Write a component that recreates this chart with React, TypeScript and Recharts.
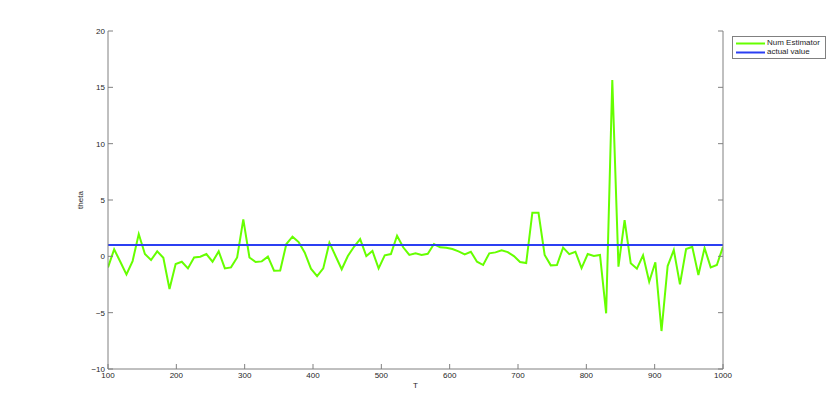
import { LineChart, Line, XAxis, YAxis, Legend } from "recharts";

// sample points of the estimator run
const T = [
    100, 109, 118, 127, 136, 145, 154, 163, 172, 181, 190, 199, 208, 217, 226, 235, 244, 253, 262, 271,
    280, 289, 298, 307, 316, 325, 334, 343, 352, 361, 370, 379, 388, 397, 406, 415, 424, 433, 442, 451,
    460, 469, 478, 487, 496, 505, 514, 523, 532, 541, 550, 559, 568, 577, 586, 595, 604, 613, 622, 631,
    640, 649, 658, 667, 676, 685, 694, 703, 712, 721, 730, 739, 748, 757, 766, 775, 784, 793, 802, 811,
    820, 829, 838, 847, 856, 865, 874, 883, 892, 901, 910, 919, 928, 937, 946, 955, 964, 973, 982, 991,
    1000,
];

const THETA = [
    -0.98, 0.62, -0.48, -1.6, -0.42, 1.98, 0.2, -0.33, 0.44, -0.12,
    -2.9, -0.68, -0.48, -1.07, -0.1, -0.03, 0.2, -0.48, 0.44, -1.07,
    -0.98, -0.1, 3.28, -0.1, -0.5, -0.45, -0.03, -1.27, -1.25, 1.09,
    1.74, 1.27, 0.32, -1.1, -1.75, -1.07, 1.21, 0.03, -1.15, 0.03,
    0.85, 1.53, 0.03, 0.47, -1.07, 0.09, 0.2, 1.83, 0.8, 0.12,
    0.27, 0.12, 0.23, 1.09, 0.8, 0.77, 0.65, 0.44, 0.18, 0.41,
    -0.48, -0.77, 0.27, 0.35, 0.53, 0.38, 0.02, -0.5, -0.6, 3.87,
    3.87, 0.12, -0.8, -0.77, 0.77, 0.2, 0.41, -1.04, 0.2, 0.03,
    0.12, -5.06, 15.64, -0.92, 3.22, -0.62, -1.1, 0.09, -2.25, -0.53,
    -6.63, -0.86, 0.56, -2.49, 0.65, 0.85, -1.66, 0.74, -0.98, -0.77,
    0.85,
];

const ACTUAL_VALUE = 1;

const X_TICKS = [100, 200, 300, 400, 500, 600, 700, 800, 900, 1000];
const Y_TICKS = [-10, -5, 0, 5, 10, 15, 20];

const GREEN = "#66ff00";
const BLUE = "#2b3ff2";
const AXIS = "#808080";
const TEXT = "#262626";
const FONT = "'Liberation Sans', Arial, sans-serif";

const data = T.map((t, i) => ({ T: t, theta: THETA[i] }));
const actualData = [
    { T: T[0], actual: ACTUAL_VALUE },
    { T: T[T.length - 1], actual: ACTUAL_VALUE },
];

const fmt = (v: number) => (v < 0 ? `\u2212${-v}` : `${v}`);

// MATLAB style: ticks point into the plot box
const BottomTick = (props: any) => {
    const { x, y, payload } = props;
    return (
        <g>
            <line x1={x} y1={y} x2={x} y2={y - 5} stroke={AXIS} />
            <text x={x} y={y + 8.5} textAnchor="middle" fontSize={8} fill={TEXT} fontFamily={FONT}>
                {payload.value}
            </text>
        </g>
    );
};

const TopTick = (props: any) => {
    const { x, y } = props;
    return <line x1={x} y1={y} x2={x} y2={y + 5} stroke={AXIS} />;
};

const LeftTick = (props: any) => {
    const { x, y, payload } = props;
    return (
        <g>
            <line x1={x} y1={y} x2={x + 5} y2={y} stroke={AXIS} />
            <text x={x - 3} y={y + 3} textAnchor="end" fontSize={8} fill={TEXT} fontFamily={FONT}>
                {fmt(payload.value)}
            </text>
        </g>
    );
};

const RightTick = (props: any) => {
    const { x, y } = props;
    return <line x1={x} y1={y} x2={x - 5} y2={y} stroke={AXIS} />;
};

const LegendBox = () => (
    <div
        style={{
            border: `1px solid ${AXIS}`,
            background: "#fff",
            padding: "2px 4px 1px 3px",
            fontFamily: FONT,
            fontSize: 8,
            color: TEXT,
            lineHeight: "8.5px",
        }}
    >
        {[
            { name: "Num Estimator", color: GREEN },
            { name: "actual value", color: BLUE },
        ].map((item) => (
            <div key={item.name} style={{ display: "flex", alignItems: "center" }}>
                <svg width={31} height={9}>
                    <line x1={0} y1={4.5} x2={29} y2={4.5} stroke={item.color} strokeWidth={2} />
                </svg>
                <span>{item.name}</span>
            </div>
        ))}
    </div>
);

export default function App() {
    return (
        <div style={{ position: "absolute", left: 0, top: 0, width: 830, height: 415, background: "#fff" }}>
            <LineChart width={830} height={415} margin={{ top: 31, right: 0, bottom: 0, left: 0 }}>
                <XAxis
                    dataKey="T"
                    type="number"
                    domain={[100, 1000]}
                    ticks={X_TICKS}
                    allowDataOverflow
                    height={46}
                    stroke={AXIS}
                    tickLine={false}
                    tickSize={0}
                    tickMargin={0}
                    tick={<BottomTick />}
                    label={(p: any) => (
                        <text
                            x={p.viewBox.x + p.viewBox.width / 2}
                            y={p.viewBox.y + 19}
                            textAnchor="middle"
                            fontSize={8}
                            fill={TEXT}
                            fontFamily={FONT}
                        >
                            T
                        </text>
                    )}
                />
                <XAxis
                    xAxisId="top"
                    orientation="top"
                    dataKey="T"
                    type="number"
                    domain={[100, 1000]}
                    ticks={X_TICKS}
                    allowDataOverflow
                    height={0}
                    stroke={AXIS}
                    tickLine={false}
                    tickSize={0}
                    tickMargin={0}
                    tick={<TopTick />}
                />
                <YAxis
                    type="number"
                    domain={[-10, 20]}
                    ticks={Y_TICKS}
                    allowDataOverflow
                    width={108}
                    stroke={AXIS}
                    tickLine={false}
                    tickSize={0}
                    tickMargin={0}
                    tick={<LeftTick />}
                    label={(p: any) => {
                        const cx = p.viewBox.x + p.viewBox.width - 25;
                        const cy = p.viewBox.y + p.viewBox.height / 2;
                        return (
                            <text
                                x={cx}
                                y={cy}
                                transform={`rotate(-90 ${cx} ${cy})`}
                                textAnchor="middle"
                                fontSize={8}
                                fill={TEXT}
                                fontFamily={FONT}
                            >
                                theta
                            </text>
                        );
                    }}
                />
                <YAxis
                    yAxisId="right"
                    orientation="right"
                    type="number"
                    domain={[-10, 20]}
                    ticks={Y_TICKS}
                    allowDataOverflow
                    width={107}
                    stroke={AXIS}
                    tickLine={false}
                    tickSize={0}
                    tickMargin={0}
                    tick={<RightTick />}
                />
                <Legend
                    layout="horizontal"
                    verticalAlign="middle"
                    align="center"
                    wrapperStyle={{ left: 732, top: 36, width: 94 }}
                    content={<LegendBox />}
                />
                <Line
                    data={data}
                    dataKey="theta"
                    name="Num Estimator"
                    stroke={GREEN}
                    strokeWidth={2}
                    dot={false}
                    isAnimationActive={false}
                />
                <Line
                    data={actualData}
                    xAxisId="top"
                    yAxisId="right"
                    dataKey="actual"
                    name="actual value"
                    stroke={BLUE}
                    strokeWidth={2}
                    dot={false}
                    isAnimationActive={false}
                />
            </LineChart>
        </div>
    );
}
